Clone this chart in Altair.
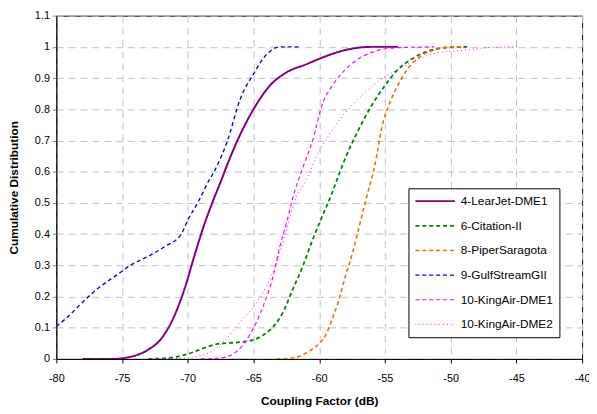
import altair as alt
import pandas as pd

series_names = ["4-LearJet-DME1", "6-Citation-II", "8-PiperSaragota",
                "9-GulfStreamGII", "10-KingAir-DME1", "10-KingAir-DME2"]

learjet_x = [-78, -75.8, -74.25, -73, -72, -71, -70.25, -69.5, -68.75, -68, -67.4, -67, -66, -65, -63.75, -62.5, -61, -59.5, -58, -56, -54]
learjet_y = [0, 0, 0.008, 0.03, 0.066, 0.14, 0.224, 0.33, 0.43, 0.515, 0.578, 0.622, 0.72, 0.80, 0.876, 0.918, 0.944, 0.97, 0.99, 1.0, 1.0]

citation_x = [-73, -71.5, -70, -68.75, -67.75, -66, -65, -64.25, -63.5, -62.75, -62, -61.25, -60.5, -60, -59.25, -58, -57, -56, -55, -54, -53, -51.75, -50.5, -48.75]
citation_y = [0, 0.003, 0.016, 0.035, 0.048, 0.054, 0.061, 0.077, 0.103, 0.15, 0.224, 0.297, 0.382, 0.434, 0.508, 0.645, 0.735, 0.813, 0.876, 0.928, 0.96, 0.986, 0.997, 1.0]

piper_x = [-63.25, -62, -61, -60.25, -59.5, -59, -58.5, -58, -57.4, -56.9, -56.4, -55.75, -55.25, -54.5, -53.75, -53, -52.25, -51.25, -50, -49.25]
piper_y = [0, 0.003, 0.019, 0.04, 0.077, 0.129, 0.19, 0.266, 0.35, 0.434, 0.518, 0.624, 0.739, 0.834, 0.897, 0.944, 0.971, 0.99, 1.0, 1.0]

gulf_x = [-80, -79, -78, -76.75, -75.5, -74.25, -73, -71.75, -70.5, -70, -69.25, -68.4, -68, -67, -66, -65, -64, -63, -61.5]
gulf_y = [0.104, 0.14, 0.182, 0.229, 0.266, 0.303, 0.329, 0.36, 0.40, 0.445, 0.5, 0.571, 0.60, 0.697, 0.834, 0.913, 0.976, 1.0, 1.0]

kingair1_x = [-69, -67.5, -66.25, -65.25, -64.25, -63.5, -63, -62.5, -62, -61.25, -60.5, -59.75, -59, -58, -57.25, -55.75, -54.25, -51.25]
kingair1_y = [0, 0.003, 0.025, 0.08, 0.17, 0.266, 0.36, 0.434, 0.518, 0.613, 0.70, 0.818, 0.876, 0.928, 0.955, 0.986, 0.997, 1.0]

kingair2_x = [-73, -70.5, -68.75, -67.25, -66, -64.75, -64, -63.25, -62.5, -61.75, -61, -60.25, -59.25, -58, -56.75, -55.25, -54, -52.75, -51, -48.75, -46.75, -44.75]
kingair2_y = [0, 0.002, 0.014, 0.056, 0.119, 0.182, 0.234, 0.308, 0.413, 0.518, 0.571, 0.645, 0.718, 0.79, 0.844, 0.897, 0.928, 0.955, 0.981, 0.99, 0.999, 1.0]

colors = ["#800080", "#008000", "#FF6600", "#0000FF", "#FF00FF", "#FF00FF"]
dashes = [[1, 0], [4, 3], [4, 3], [4, 3], [4, 3], [1, 3]]
widths = [2, 1, 1, 1, 1, 1]

all_x = [learjet_x, citation_x, piper_x, gulf_x, kingair1_x, kingair2_x]
all_y = [learjet_y, citation_y, piper_y, gulf_y, kingair1_y, kingair2_y]

rows = []
for name, xs, ys in zip(series_names, all_x, all_y):
    for i, (xv, yv) in enumerate(zip(xs, ys)):
        rows.append({"series": name, "x": xv, "y": yv, "i": i})
df = pd.DataFrame(rows)

FONT = "Arial"

legend = alt.Legend(
    title=None, orient="none", legendX=357, legendY=175, columns=1,
    symbolType="stroke", symbolSize=1600, clipHeight=14,
    strokeColor="black", fillColor="white", padding=6,
    labelFont=FONT, labelFontSize=12, labelColor="black",
    rowPadding=11, labelOffset=5, symbolStrokeWidth=1.3,
)

chart = alt.Chart(df).mark_line(clip=True, interpolate="monotone").encode(
    x=alt.X("x:Q", title="Coupling Factor (dB)",
            scale=alt.Scale(domain=[-80, -40], nice=False),
            axis=alt.Axis(values=list(range(-80, -39, 5)), labelExpr="'' + datum.value",
                          labelFlush=False, labelPadding=10)),
    y=alt.Y("y:Q", title="Cumulative Distribution",
            scale=alt.Scale(domain=[0, 1.1], nice=False),
            axis=alt.Axis(values=[0, 0.1, 0.2, 0.3, 0.4, 0.5, 0.6, 0.7, 0.8, 0.9, 1.0, 1.1],
                          labelExpr="'' + round(datum.value*10)/10")),
    color=alt.Color("series:N", scale=alt.Scale(domain=series_names, range=colors), legend=legend),
    strokeDash=alt.StrokeDash("series:N", scale=alt.Scale(domain=series_names, range=dashes), legend=legend),
    strokeWidth=alt.StrokeWidth("series:N", scale=alt.Scale(domain=series_names, range=widths), legend=None),
    order="i:Q",
    detail="series:N",
).properties(
    width=533, height=348,
    padding={"left": 49, "top": 5, "right": 7, "bottom": 50},
    autosize=alt.AutoSizeParams(type="none"),
).configure_view(
    stroke="black", strokeWidth=1
).configure_axis(
    labelFont=FONT, labelFontSize=11, labelColor="black",
    titleFont=FONT, titleFontSize=12, titleFontWeight="bold", titleColor="black",
    gridColor="#c0c0c0", gridDash=[7, 5], gridWidth=1,
    domainColor="black", tickColor="#808080", tickSize=4,
    labelPadding=3,
).configure_axisX(
    titlePadding=12, tickColor="black"
).configure_axisY(
    titlePadding=14
)

chart.save("out.html", embed_options={"renderer": "svg", "actions": False})
